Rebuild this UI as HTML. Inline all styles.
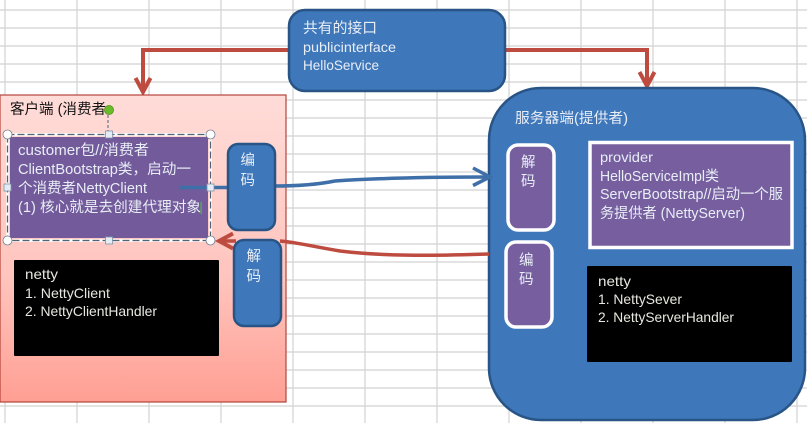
<!DOCTYPE html>
<html><head><meta charset="utf-8"><style>
html,body{margin:0;padding:0;background:#fff}
svg{display:block}
text{font-family:"Liberation Sans","Noto Sans CJK SC",sans-serif;font-size:14.5px}
.l{font-size:14px}
.w{fill:#e8eef6}.k{fill:#111}.d{fill:#e8e8e0;font-size:14px}
</style></head><body>
<svg width="807" height="423" viewBox="0 0 807 423" xmlns="http://www.w3.org/2000/svg">
<defs>
<linearGradient id="pink" x1="0" y1="0" x2="0" y2="1"><stop offset="0" stop-color="#ffdcd8"/><stop offset=".6" stop-color="#ffc4bd"/><stop offset="1" stop-color="#ff9f93"/></linearGradient>
<pattern id="grid" x="4" y="9" width="72" height="18" patternUnits="userSpaceOnUse"><path d="M0 1H72M1 0V18" stroke="#d2d2d2" stroke-width="1.2" fill="none"/></pattern>
</defs>
<rect width="807" height="423" fill="#fff"/>
<rect width="807" height="423" fill="url(#grid)"/>

<!-- red top connectors -->
<path d="M289 50H143V90" fill="none" stroke="#bd4b3f" stroke-width="4"/>
<path d="M135.500 78L143 92L150.500 78" fill="none" stroke="#bd4b3f" stroke-width="4"/>
<path d="M504 50H647V84" fill="none" stroke="#bd4b3f" stroke-width="4"/>
<path d="M639.500 72L647 86L654.500 72" fill="none" stroke="#bd4b3f" stroke-width="4"/>

<!-- interface box -->
<rect x="289" y="10" width="216" height="81" rx="16" fill="#3f77bb" stroke="#285586" stroke-width="2.5"/>
<text x="303" y="33" class="w" textLength="74" lengthAdjust="spacingAndGlyphs">共有的接口</text>
<text x="303" y="52" class="w l" textLength="93" lengthAdjust="spacingAndGlyphs">publicinterface</text>
<text x="303" y="70" class="w l" textLength="76" lengthAdjust="spacingAndGlyphs">HelloService</text>

<!-- client -->
<rect x="0" y="95" width="286" height="307" fill="url(#pink)" stroke="#b5433a" stroke-width="1.2"/>
<text x="10" y="114" class="k" textLength="96" lengthAdjust="spacingAndGlyphs">客户端 (消费者</text>

<!-- server -->
<rect x="489" y="88" width="316" height="332" rx="52" fill="#3f77bb" stroke="#285586" stroke-width="2.5"/>
<text x="515" y="123" class="w" textLength="113" lengthAdjust="spacingAndGlyphs">服务器端(提供者)</text>

<!-- client purple -->
<rect x="10" y="137" width="198" height="101" fill="#735b9b"/>
<rect x="7.500" y="134.500" width="203" height="106" fill="none" stroke="#fff" stroke-width="2.5"/>
<rect x="7.500" y="134.500" width="203" height="106" fill="none" stroke="#4f6379" stroke-width="1.2" stroke-dasharray="7 3"/>
<text x="18" y="155" class="w" textLength="131" lengthAdjust="spacingAndGlyphs">customer包//消费者</text>
<text x="18" y="174" class="w" textLength="173" lengthAdjust="spacingAndGlyphs">ClientBootstrap类，启动一</text>
<text x="18" y="193" class="w" textLength="129" lengthAdjust="spacingAndGlyphs">个消费者NettyClient</text>
<text x="18" y="212" class="w" textLength="183" lengthAdjust="spacingAndGlyphs">(1) 核心就是去创建代理对象</text>
<rect x="200.500" y="202" width="1.3" height="12" fill="#55b04a"/>
<path d="M108 115V134" stroke="#4f6379" stroke-width="1" stroke-dasharray="3 2"/>
<circle cx="109" cy="110" r="4.5" fill="#6cbb2c" stroke="#5a9a28"/>

<!-- blue connector -->
<path d="M179 187.500H227M275 186C300 186 320 184 335 181C380 178 440 177 488 177" fill="none" stroke="#3f6fa8" stroke-width="3.5"/>
<path d="M473 168L490 177L473 185.500" fill="none" stroke="#3f6fa8" stroke-width="3.5"/>

<g fill="#fff" stroke="#6f7f90" stroke-width=".8">
<circle cx="7.500" cy="134.500" r="4.500"/><circle cx="210.500" cy="134.500" r="4.500"/>
<circle cx="7.500" cy="240.500" r="4.500"/><circle cx="210.500" cy="240.500" r="4.500"/>
</g>
<g fill="#e4ecf6" stroke="#7f93a8" stroke-width=".8">
<rect x="105.500" y="131" width="7" height="7"/><rect x="105.500" y="237" width="7" height="7"/>
<rect x="4" y="184" width="7" height="7"/><rect x="207" y="184" width="7" height="7"/>
</g>

<!-- red return connector -->
<path d="M489 254C430 256 380 256 340 251C310 246 295 242 280 241M236 241H221" fill="none" stroke="#bd4b3f" stroke-width="3.5"/>
<path d="M233 233.500L219 241L233 248.500" fill="none" stroke="#bd4b3f" stroke-width="4"/>

<!-- encode/decode client -->
<rect x="228" y="144" width="47" height="86" rx="10" fill="#3f77bb" stroke="#285586" stroke-width="2.5"/>
<text x="240.500" y="165" class="w">编</text><text x="240.500" y="185" class="w">码</text>
<rect x="234" y="240" width="47" height="86" rx="10" fill="#3f77bb" stroke="#285586" stroke-width="2.5"/>
<text x="246.500" y="261" class="w">解</text><text x="246.500" y="281" class="w">码</text>

<!-- black client -->
<rect x="14" y="260" width="205" height="96" rx="1" fill="#000"/>
<text x="25" y="279" class="d" textLength="33" lengthAdjust="spacingAndGlyphs">netty</text>
<text x="25" y="298" class="d" textLength="85" lengthAdjust="spacingAndGlyphs">1. NettyClient</text>
<text x="25" y="316" class="d" textLength="132" lengthAdjust="spacingAndGlyphs">2. NettyClientHandler</text>

<!-- server decode / encode -->
<rect x="508" y="145" width="46" height="85" rx="10" fill="#775f9f" stroke="#fff" stroke-width="3.500"/>
<text x="521" y="167" class="w">解</text><text x="521" y="186" class="w">码</text>
<rect x="506" y="242" width="46" height="85" rx="10" fill="#775f9f" stroke="#fff" stroke-width="3.500"/>
<text x="519" y="265" class="w">编</text><text x="519" y="284" class="w">码</text>

<!-- provider -->
<rect x="590" y="142.500" width="202" height="105" fill="#775f9f" stroke="#fff" stroke-width="3.500"/>
<text x="600" y="162" class="w l" textLength="53" lengthAdjust="spacingAndGlyphs">provider</text>
<text x="600" y="181" class="w" textLength="119" lengthAdjust="spacingAndGlyphs">HelloServiceImpl类</text>
<text x="600" y="199" class="w" textLength="183" lengthAdjust="spacingAndGlyphs">ServerBootstrap//启动一个服</text>
<text x="600" y="218" class="w" textLength="145" lengthAdjust="spacingAndGlyphs">务提供者 (NettyServer)</text>

<!-- black server -->
<rect x="587" y="266" width="205" height="96" rx="1" fill="#000"/>
<text x="598" y="286" class="d" textLength="33" lengthAdjust="spacingAndGlyphs">netty</text>
<text x="598" y="304" class="d" textLength="84" lengthAdjust="spacingAndGlyphs">1. NettySever</text>
<text x="598" y="322" class="d" textLength="136" lengthAdjust="spacingAndGlyphs">2. NettyServerHandler</text>
</svg>
</body></html>
